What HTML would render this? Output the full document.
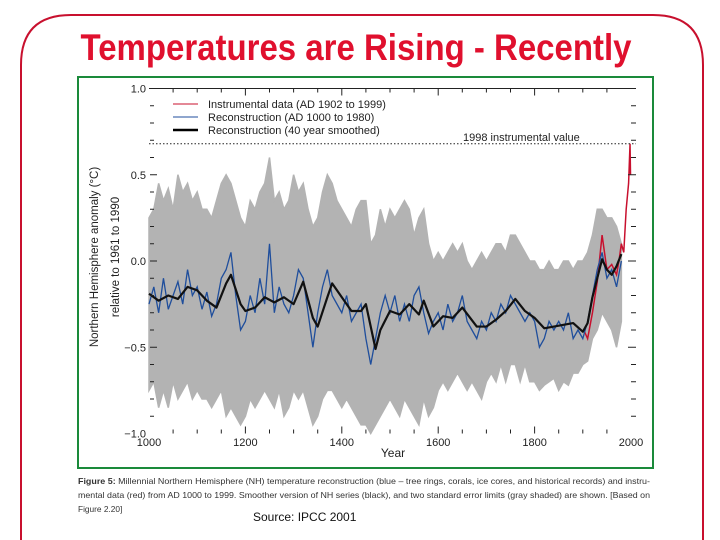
<!DOCTYPE html>
<html><head><meta charset="utf-8"><style>
body{margin:0;background:#fff;width:720px;height:540px;overflow:hidden}
svg{display:block}
text{font-family:"Liberation Sans",Arial,sans-serif}
</style></head><body>
<svg id="chart" width="720" height="540" viewBox="0 0 720 540">
<path d="M21 560 L21 65 Q21 15 71 15 L653 15 Q703 15 703 65 L703 560" fill="none" stroke="#c8102e" stroke-width="2"/>
<text x="356" y="60" text-anchor="middle" font-size="37" font-weight="bold" fill="#e0102e" textLength="551" lengthAdjust="spacingAndGlyphs">Temperatures are Rising - Recently</text>
<rect x="78" y="77" width="575" height="391" fill="none" stroke="#1a8a3a" stroke-width="2"/>
<g id="plot"></g>
<text transform="translate(98,257) rotate(-90)" text-anchor="middle" font-size="11.5" fill="#222">Northern Hemisphere anomaly (°C)</text>
<text transform="translate(119,257) rotate(-90)" text-anchor="middle" font-size="11.5" fill="#222">relative to 1961 to 1990</text>
<text x="393" y="457" text-anchor="middle" font-size="12" fill="#222">Year</text>
<g>
<line x1="173" y1="104" x2="198" y2="104" stroke="#c8102e" stroke-width="1"/>
<text x="208" y="108" font-size="11" fill="#222">Instrumental data (AD 1902 to 1999)</text>
<line x1="173" y1="117" x2="198" y2="117" stroke="#1f4e9c" stroke-width="1"/>
<text x="208" y="121" font-size="11" fill="#222">Reconstruction (AD 1000 to 1980)</text>
<line x1="173" y1="130" x2="198" y2="130" stroke="#000" stroke-width="2.5"/>
<text x="208" y="134" font-size="11" fill="#222">Reconstruction (40 year smoothed)</text>
</g>
<text x="463" y="141" font-size="11" fill="#222">1998 instrumental value</text>
<g font-size="8.3" fill="#333">
<text x="78" y="484" textLength="572" lengthAdjust="spacingAndGlyphs"><tspan font-weight="bold">Figure 5:</tspan> Millennial Northern Hemisphere (NH) temperature reconstruction (blue – tree rings, corals, ice cores, and historical records) and instru-</text>
<text x="78" y="498" textLength="572" lengthAdjust="spacingAndGlyphs">mental data (red) from AD 1000 to 1999. Smoother version of NH series (black), and two standard error limits (gray shaded) are shown. [Based on</text>
<text x="78" y="512">Figure 2.20]</text>
</g>
<text x="253" y="521" font-size="12" fill="#111">Source: IPCC 2001</text>
</svg>
<script>
const years10=[1000,1010,1020,1030,1040,1050,1060,1070,1080,1090,1100,1110,1120,1130,1140,1150,1160,1170,1180,1190,1200,1210,1220,1230,1240,1250,1260,1270,1280,1290,1300,1310,1320,1330,1340,1350,1360,1370,1380,1390,1400,1410,1420,1430,1440,1450,1460,1470,1480,1490,1500,1510,1520,1530,1540,1550,1560,1570,1580,1590,1600,1610,1620,1630,1640,1650,1660,1670,1680,1690,1700,1710,1720,1730,1740,1750,1760,1770,1780,1790,1800,1810,1820,1830,1840,1850,1860,1870,1880,1890,1900,1910,1920,1930,1940,1950,1960,1970,1980];
const bandUpper=[0.25,0.3,0.45,0.35,0.42,0.3,0.5,0.4,0.45,0.35,0.4,0.3,0.3,0.25,0.35,0.45,0.5,0.45,0.35,0.25,0.2,0.35,0.3,0.4,0.45,0.6,0.35,0.4,0.3,0.35,0.5,0.4,0.45,0.3,0.2,0.25,0.4,0.5,0.45,0.35,0.3,0.25,0.2,0.3,0.35,0.35,0.1,0.15,0.3,0.2,0.3,0.25,0.3,0.35,0.3,0.15,0.25,0.3,0.1,0.0,0.05,0.0,0.05,0.1,0.05,0.1,0.0,-0.05,0.0,0.05,0.0,0.05,0.1,0.1,0.05,0.15,0.15,0.1,0.05,0.0,0.0,-0.05,-0.05,0.0,-0.05,-0.05,0.0,0.0,-0.05,0.0,0.0,0.05,0.15,0.3,0.3,0.25,0.25,0.2,0.1];
const bandLower=[-0.75,-0.7,-0.85,-0.75,-0.85,-0.7,-0.8,-0.75,-0.7,-0.8,-0.75,-0.8,-0.8,-0.85,-0.8,-0.75,-0.9,-0.85,-0.9,-0.95,-0.9,-0.8,-0.85,-0.8,-0.75,-0.8,-0.85,-0.75,-0.9,-0.85,-0.75,-0.8,-0.75,-0.85,-0.95,-0.9,-0.8,-0.75,-0.75,-0.8,-0.85,-0.8,-0.85,-0.9,-0.95,-0.95,-1.0,-0.95,-0.9,-0.85,-0.8,-0.85,-0.9,-0.8,-0.85,-0.9,-0.95,-0.8,-0.9,-0.85,-0.75,-0.7,-0.75,-0.7,-0.65,-0.7,-0.75,-0.7,-0.75,-0.8,-0.7,-0.65,-0.7,-0.6,-0.7,-0.6,-0.6,-0.7,-0.6,-0.7,-0.7,-0.75,-0.72,-0.7,-0.68,-0.75,-0.7,-0.72,-0.65,-0.65,-0.6,-0.58,-0.45,-0.4,-0.3,-0.35,-0.4,-0.5,-0.35];
const recon=[-0.25,-0.15,-0.3,-0.1,-0.28,-0.2,-0.12,-0.25,-0.05,-0.2,-0.15,-0.28,-0.18,-0.32,-0.25,-0.1,-0.05,0.05,-0.2,-0.4,-0.35,-0.2,-0.3,-0.1,-0.25,0.1,-0.3,-0.15,-0.25,-0.3,-0.2,-0.05,-0.1,-0.3,-0.5,-0.3,-0.15,-0.05,-0.2,-0.25,-0.3,-0.2,-0.35,-0.3,-0.25,-0.45,-0.6,-0.45,-0.3,-0.2,-0.3,-0.2,-0.35,-0.25,-0.35,-0.2,-0.15,-0.3,-0.42,-0.35,-0.3,-0.4,-0.25,-0.35,-0.3,-0.2,-0.35,-0.4,-0.45,-0.35,-0.4,-0.3,-0.35,-0.25,-0.3,-0.2,-0.25,-0.3,-0.35,-0.3,-0.35,-0.5,-0.45,-0.35,-0.4,-0.35,-0.4,-0.3,-0.45,-0.4,-0.45,-0.35,-0.2,-0.05,0.05,-0.1,-0.05,-0.15,0.0];
const smoothYears=[1000,1020,1040,1060,1080,1100,1120,1140,1160,1170,1190,1200,1220,1240,1260,1280,1300,1320,1340,1350,1370,1380,1400,1420,1440,1450,1470,1480,1500,1520,1540,1560,1570,1590,1610,1630,1650,1680,1700,1720,1740,1760,1780,1800,1820,1840,1860,1880,1900,1910,1920,1940,1950,1960,1970,1980];
const smoothVals=[-0.19,-0.23,-0.2,-0.22,-0.15,-0.17,-0.23,-0.27,-0.13,-0.08,-0.25,-0.29,-0.27,-0.21,-0.24,-0.21,-0.25,-0.12,-0.33,-0.38,-0.21,-0.13,-0.21,-0.29,-0.29,-0.25,-0.51,-0.4,-0.29,-0.31,-0.25,-0.31,-0.23,-0.38,-0.32,-0.33,-0.27,-0.38,-0.38,-0.34,-0.29,-0.22,-0.29,-0.33,-0.39,-0.38,-0.37,-0.36,-0.41,-0.36,-0.21,0.01,-0.05,-0.08,-0.03,0.04];
const instYears=[1902,1910,1920,1930,1940,1945,1950,1960,1970,1975,1980,1985,1990,1995,1998,1999];
const instVals=[-0.4,-0.45,-0.3,-0.12,0.15,0.05,-0.05,-0.02,-0.08,0.0,0.1,0.05,0.3,0.45,0.68,0.5];
const yTickLabels=["1.0","0.5","0.0","−0.5","−1.0"];
const yTickValues=[1,0.5,0,-0.5,-1];
const xTickLabels=["1000","1200","1400","1600","1800","2000"];
const value1998=0.68;

const NS="http://www.w3.org/2000/svg";
const X0=149,X1=631,Y0=261,YS=172.5;
function xs(yr){return X0+(yr-1000)*(X1-X0)/1000;}
function ys(v){return Y0-v*YS;}
const g=document.getElementById('plot');
function mk(tag,attrs){const e=document.createElementNS(NS,tag);for(const k in attrs)e.setAttribute(k,attrs[k]);g.appendChild(e);return e;}

// gray band
let pts=[];
years10.forEach((yr,i)=>pts.push(xs(yr)+','+ys(bandUpper[i])));
for(let i=years10.length-1;i>=0;i--)pts.push(xs(years10[i])+','+ys(bandLower[i]));
const band=mk('polygon',{points:pts.join(' '),fill:'#b3b3b3',stroke:'#b3b3b3','stroke-width':1.5,'stroke-linejoin':'miter'});



// instrumental
const inst=mk('polyline',{points:instYears.map((yr,i)=>xs(yr)+','+ys(instVals[i])).join(' '),fill:'none',stroke:'#c8102e','stroke-width':1.5});



// reconstruction
const rec=mk('polyline',{points:years10.map((yr,i)=>xs(yr)+','+ys(recon[i])).join(' '),fill:'none',stroke:'#1f4e9c','stroke-width':1.3});



// smoothed
const sm=mk('polyline',{points:smoothYears.map((yr,i)=>xs(yr)+','+ys(smoothVals[i])).join(' '),fill:'none',stroke:'#111','stroke-width':2.2,'stroke-linejoin':'round'});



// 1998 dotted line
const dl=mk('line',{x1:X0,x2:636,y1:ys(value1998),y2:ys(value1998),stroke:'#222','stroke-width':1,'stroke-dasharray':'1.5,2'});



// top axis
const ta=mk('line',{x1:X0,x2:636,y1:ys(1),y2:ys(1),stroke:'#222','stroke-width':1});


for(let yr=1050;yr<2000;yr+=50){
 const big=(yr%200===0);
 const t=mk('line',{x1:xs(yr),x2:xs(yr),y1:ys(1),y2:ys(1)+(big?7:4),stroke:'#222','stroke-width':1});
 
 
 const b=mk('line',{x1:xs(yr),x2:xs(yr),y1:ys(-1),y2:ys(-1)-(big?7:4),stroke:'#222','stroke-width':1});
 
 
}
for(let k=-9;k<=9;k++){
 const v=k/10;
 const major=(k%5===0);
 const l=mk('line',{x1:X0+1,x2:X0+(major?8:5),y1:ys(v),y2:ys(v),stroke:'#222','stroke-width':1});
 
 
 const r=mk('line',{x1:636-(major?8:5),x2:636,y1:ys(v),y2:ys(v),stroke:'#222','stroke-width':1});
 
 
}
yTickLabels.forEach((lab,i)=>{
 const t=mk('text',{x:X0-3,y:ys(yTickValues[i])+4,'text-anchor':'end','font-size':11,fill:'#222'});
 t.textContent=lab;
 
 
});
xTickLabels.forEach((lab)=>{
 const t=mk('text',{x:xs(+lab),y:446,'text-anchor':'middle','font-size':11,fill:'#222'});
 t.textContent=lab;
 
 
});
</script>
</body></html>
